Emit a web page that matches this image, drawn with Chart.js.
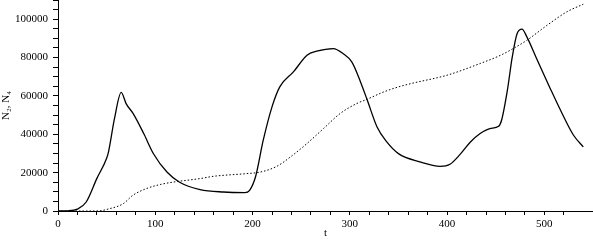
<!DOCTYPE html>
<html lang="en">
<head>
  <meta charset="UTF-8">
  <title>N2, N4 over t</title>
  <style>
    html, body { margin: 0; padding: 0; background: white; }
    .wrap { width: 593px; height: 240px; position: relative; }
  </style>
  <script src="https://cdn.jsdelivr.net/npm/chart.js"></script>
</head>
<body>
  <div class="wrap"><canvas id="popChart"></canvas></div>
  <script>
    // solid curve
    const tSolid = [0, 10, 20, 29, 40, 50, 52, 58, 65, 70, 77, 88, 98, 112, 125, 146, 170, 192, 197, 203,
      211, 220, 228, 242, 256, 266, 283, 293, 302, 311, 318, 328, 338, 350, 372, 393, 403, 414, 424, 434,
      444, 453, 456, 462, 467, 472, 477, 482, 492, 506, 520, 530, 540];
    const nSolid = [0, 100, 1000, 4700, 17000, 27500, 31000, 48000, 61800, 56000, 51000, 40500, 30000, 20300, 15000, 11200, 9900, 9600, 10800, 17700,
      36900, 54300, 64700, 72500, 81200, 83300, 84700, 82100, 77700, 67300, 57700, 43800, 36000, 29900, 25600, 23300, 24400, 29900, 36000, 40400,
      43000, 44200, 47300, 63000, 80300, 92500, 94800, 90800, 79500, 63900, 49000, 39500, 33400];

    // dotted curve
    const tDotted = [0, 40, 53, 67, 77, 91, 105, 119, 146, 160, 194, 208, 225, 239, 256, 273, 290, 307, 318, 335,
      352, 366, 400, 434, 455, 468, 482, 503, 523, 540];
    const nDotted = [0, 0, 1200, 3800, 8200, 11700, 13800, 15100, 16900, 18100, 19500, 20300, 23300, 28200, 35200, 43000, 50800, 56000, 58300, 62100,
      65000, 66800, 70800, 76900, 81200, 84700, 89000, 96900, 103800, 107800];

    const xMajor = [0, 100, 200, 300, 400, 500];
    const yMajor = [0, 20000, 40000, 60000, 80000, 100000];

    const toPoints = (xs, ys) => xs.map((x, i) => ({ x: x, y: ys[i] }));

    const font = { family: 'Liberation Serif', size: 11 };

    const ctx = document.getElementById('popChart').getContext('2d');
    new Chart(ctx, {
      type: 'line',
      data: {
        datasets: [
          {
            data: toPoints(tSolid, nSolid),
            borderColor: '#000',
            borderWidth: 1.3,
            pointRadius: 0,
            cubicInterpolationMode: 'monotone'
          },
          {
            data: toPoints(tDotted, nDotted),
            borderColor: '#000',
            borderWidth: 1,
            borderDash: [1.5, 2],
            pointRadius: 0,
            cubicInterpolationMode: 'monotone'
          }
        ]
      },
      options: {
        responsive: true,
        maintainAspectRatio: false,
        animation: false,
        layout: { padding: 0 },
        plugins: { legend: { display: false }, tooltip: { enabled: false } },
        scales: {
          x: {
            type: 'linear',
            min: 0,
            max: 550,
            afterFit: s => { s.height = 29; s.paddingLeft = 0; s.paddingRight = 0; },
            afterBuildTicks: s => { s.ticks = s.ticks.filter(t => t.value % 20 === 0); },
            border: { display: true, color: '#000', width: 1 },
            grid: { drawOnChartArea: false, drawTicks: true, tickLength: 4, color: '#000' },
            ticks: {
              stepSize: 20,
              autoSkip: false,
              maxRotation: 0,
              padding: 3,
              color: '#000',
              font: font,
              callback: v => xMajor.includes(v) ? String(v) : ''
            },
            title: { display: true, text: 't', color: '#000', font: font, padding: { top: 2, bottom: 0 } }
          },
          y: {
            min: 0,
            max: 110000,
            afterFit: s => { s.width = 58; s.paddingTop = 0; s.paddingBottom = 0; },
            afterBuildTicks: s => { s.ticks = s.ticks.filter(t => t.value % 5000 === 0); },
            border: { display: true, color: '#000', width: 1 },
            grid: { drawOnChartArea: false, drawTicks: true, tickLength: 5, color: '#000' },
            ticks: {
              stepSize: 5000,
              autoSkip: false,
              padding: 5,
              color: '#000',
              font: font,
              callback: v => yMajor.includes(v) ? String(v) : ''
            },
            title: { display: true, text: 'N₂, N₄', color: '#000', font: font, padding: 0 }
          }
        }
      }
    });
  </script>
</body>
</html>
